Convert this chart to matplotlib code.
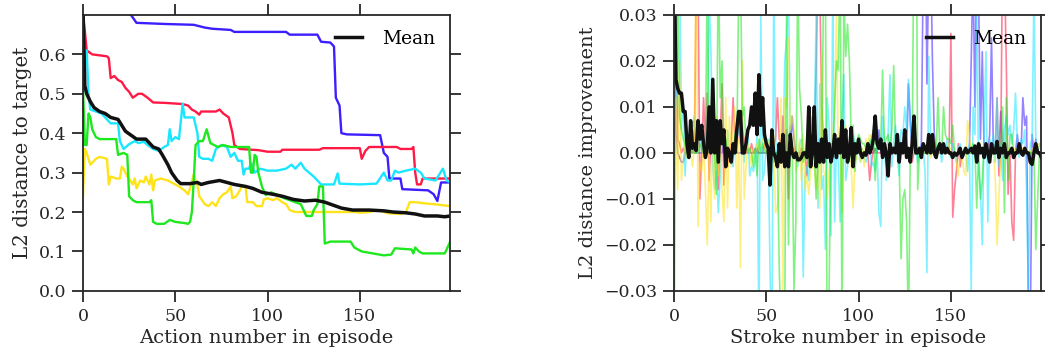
import numpy as np
import matplotlib
matplotlib.use("Agg")
import matplotlib.pyplot as plt

plt.rcParams["font.family"] = ["DejaVu Serif"]

INK = "#262626"
COLORS = {
    "blue": "#3c1eff",
    "red": "#ff1a46",
    "cyan": "#1ae6ff",
    "yellow": "#ffe31a",
    "green": "#1ee81e",
}

# ---- left panel: distance to target, read as knots (action, distance) ----
blue_x = [0, 10, 20, 26, 29, 45, 60, 66, 70, 80, 82, 110, 112, 127, 129, 134,
          136, 137, 139, 140, 143, 161, 163, 165, 166, 172, 173, 187, 190,
          192, 194, 199]
blue_y = [0.80, 0.75, 0.72, 0.70, 0.68, 0.677, 0.675, 0.668, 0.665, 0.662,
          0.657, 0.657, 0.65, 0.65, 0.632, 0.63, 0.62, 0.49, 0.47, 0.40,
          0.397, 0.395, 0.35, 0.34, 0.285, 0.285, 0.258, 0.255, 0.245,
          0.228, 0.275, 0.275]

red_x = [0, 1, 2, 5, 13, 14, 15, 17, 19, 21, 23, 25, 27, 30, 32, 35, 38, 44,
         54, 57, 59, 61, 63, 64, 72, 74, 76, 79, 81, 82, 85, 95, 100, 107,
         108, 128, 130, 150, 151, 153, 155, 170, 172, 178, 179, 180, 181,
         183, 184, 199]
red_y = [0.70, 0.66, 0.61, 0.60, 0.595, 0.59, 0.54, 0.545, 0.535, 0.53,
         0.515, 0.505, 0.49, 0.50, 0.50, 0.49, 0.478, 0.477, 0.474, 0.47,
         0.46, 0.455, 0.447, 0.455, 0.455, 0.46, 0.45, 0.44, 0.40, 0.37,
         0.36, 0.357, 0.353, 0.353, 0.358, 0.358, 0.362, 0.362, 0.335,
         0.355, 0.365, 0.365, 0.36, 0.36, 0.365, 0.30, 0.27, 0.27, 0.285,
         0.285]

cyan_x = [0, 1, 2, 3, 4, 10, 12, 15, 19, 20, 22, 25, 28, 30, 33, 35, 38, 41,
          44, 46, 47, 48, 50, 52, 54, 55, 60, 62, 63, 65, 68, 70, 72, 75, 78,
          80, 82, 84, 86, 87, 88, 90, 91, 93, 96, 100, 105, 110, 113, 115,
          118, 120, 125, 129, 136, 138, 139, 150, 159, 163, 165, 167, 169,
          171, 175, 180, 183, 185, 191, 195, 197, 199]
cyan_y = [0.55, 0.60, 0.61, 0.50, 0.46, 0.45, 0.44, 0.425, 0.425, 0.38, 0.36,
          0.372, 0.38, 0.375, 0.378, 0.37, 0.36, 0.355, 0.365, 0.37, 0.41,
          0.38, 0.39, 0.385, 0.475, 0.44, 0.44, 0.40, 0.34, 0.335, 0.335,
          0.33, 0.36, 0.37, 0.365, 0.34, 0.35, 0.33, 0.33, 0.295, 0.31,
          0.31, 0.325, 0.30, 0.31, 0.305, 0.305, 0.31, 0.32, 0.31, 0.325,
          0.31, 0.29, 0.27, 0.27, 0.298, 0.272, 0.27, 0.272, 0.30, 0.28,
          0.28, 0.305, 0.30, 0.305, 0.31, 0.30, 0.285, 0.28, 0.31, 0.28,
          0.275]

yellow_x = [0, 1, 2, 4, 7, 9, 13, 14, 15, 18, 20, 21, 22, 24, 25, 27, 28, 29,
            31, 33, 34, 36, 37, 38, 39, 42, 46, 48, 50, 52, 55, 57, 58, 60,
            61, 62, 63, 66, 68, 70, 72, 74, 76, 78, 80, 81, 83, 85, 86, 88,
            89, 92, 94, 97, 98, 100, 103, 105, 108, 110, 112, 115, 148, 150,
            155, 160, 165, 172, 175, 177, 180, 185, 190, 199]
yellow_y = [0.24, 0.36, 0.35, 0.32, 0.335, 0.34, 0.335, 0.27, 0.29, 0.285,
            0.285, 0.315, 0.31, 0.29, 0.285, 0.27, 0.285, 0.26, 0.28, 0.275,
            0.29, 0.27, 0.295, 0.255, 0.28, 0.285, 0.28, 0.275, 0.27, 0.265,
            0.255, 0.245, 0.26, 0.295, 0.28, 0.27, 0.24, 0.22, 0.215, 0.225,
            0.215, 0.235, 0.245, 0.25, 0.265, 0.235, 0.24, 0.255, 0.265,
            0.265, 0.225, 0.225, 0.215, 0.215, 0.232, 0.235, 0.23, 0.235,
            0.225, 0.22, 0.205, 0.20, 0.20, 0.198, 0.20, 0.205, 0.197, 0.195,
            0.20, 0.225, 0.225, 0.222, 0.22, 0.215]

green_x = [0, 1, 2, 3, 4, 5, 7, 9, 18, 19, 22, 24, 25, 27, 29, 36, 37, 38, 40,
           44, 47, 50, 55, 57, 58, 59, 60, 61, 63, 65, 67, 69, 73, 76, 80, 90,
           91, 92, 93, 94, 95, 97, 99, 102, 109, 115, 118, 121, 124, 125, 127,
           128, 130, 131, 134, 145, 147, 151, 163, 167, 169, 178, 179, 180,
           182, 184, 196, 199]
green_y = [0.52, 0.37, 0.37, 0.45, 0.44, 0.41, 0.39, 0.385, 0.385, 0.345,
           0.35, 0.345, 0.24, 0.23, 0.225, 0.225, 0.23, 0.175, 0.17, 0.17,
           0.18, 0.175, 0.172, 0.17, 0.175, 0.20, 0.28, 0.37, 0.38, 0.38,
           0.41, 0.375, 0.365, 0.37, 0.365, 0.365, 0.30, 0.30, 0.345, 0.34,
           0.30, 0.264, 0.243, 0.25, 0.235, 0.225, 0.22, 0.19, 0.19, 0.205,
           0.22, 0.265, 0.265, 0.12, 0.125, 0.125, 0.11, 0.10, 0.09, 0.092,
           0.108, 0.105, 0.095, 0.11, 0.10, 0.095, 0.095, 0.125]

mean_x = [0, 1, 2, 4, 6, 9, 12, 15, 19, 21, 23, 26, 29, 34, 36, 38, 41, 43, 46,
          48, 51, 53, 58, 62, 64, 68, 74, 78, 82, 88, 92, 97, 103, 108, 114,
          120, 126, 131, 134, 140, 146, 155, 163, 168, 175, 180, 185, 192,
          196, 199]
mean_y = [0.72, 0.52, 0.50, 0.48, 0.465, 0.455, 0.45, 0.44, 0.435, 0.42,
          0.405, 0.395, 0.385, 0.385, 0.375, 0.365, 0.36, 0.345, 0.32, 0.30,
          0.28, 0.272, 0.272, 0.275, 0.27, 0.275, 0.28, 0.275, 0.27, 0.265,
          0.26, 0.25, 0.245, 0.24, 0.232, 0.228, 0.23, 0.225, 0.22, 0.21,
          0.205, 0.205, 0.203, 0.20, 0.198, 0.195, 0.19, 0.19, 0.188, 0.19]

# ---- right panel: per-stroke improvement, in thousandths ----
blue_imp = [
    50, 5, 0, -1, -2, -2, 0, 0, 1, 0, 5, 0, 0, 0, 0, 0, 0, 0, 0, 0,
    2, 0, 0, 0, 0, 0, 0, 3, 1, 0, 0, 0, 0, 0, 0, 0, 0, 0, 0, 0,
    0, 0, 0, 0, 1, 0, 0, 0, 0, 0, 0, 0, 0, 0, 0, 0, 0, 0, 0, 1,
    0, 0, 0, 0, 8, 3, 0, 0, 0, 0, 0, 0, 0, 0, 2, 1, 0, 0, 0, 3,
    0, 2, 0, 0, 0, 0, 0, 0, 0, 0, 0, 0, 0, 0, 0, 0, 0, 0, 0, 0,
    0, 0, 0, 0, 0, 0, 0, 0, 0, 1, 0, 5, 0, 0, 0, 0, 0, 0, 0, 0,
    0, 0, 0, 0, 0, 0, 0, 15, 7, 0, 3, 0, 0, 0, 2, 40, 60, 15, 40, 45,
    20, 4, 0, 0, 0, 0, 0, 0, 0, 0, 0, 0, 0, 0, 0, 0, 0, 0, 0, 0,
    0, 20, 40, 10, 45, 35, 3, 22, 0, 0, 0, 4, 25, 1, 0, 0, 0, 9, 0, 2,
    0, 0, 0, 0, 0, 0, 4, 0, 0, 12, 6, 8, -35, -40, 4, 0, 3, 0, 0]
red_imp = [
    60, 50, 3, 2, 0, 1, 0, 2, 1, 0, 0, 1, 35, 40, -10, 0, 12, 2, 13, -6,
    3, 4, 2, 5, -8, 3, 15, -7, 2, -3, 0, 2, 12, 3, 0, 8, 2, 5, 3, 0,
    1, 0, 2, 0, 0, 1, 0, 0, 0, 2, 0, 0, 1, 0, 2, 3, 12, 3, 2, 8,
    0, 5, -10, 6, 0, 1, 0, -2, 0, 1, 0, 0, -5, 3, 8, 5, 2, 19, 40, 35,
    10, 3, 2, 0, 1, 0, 0, 1, 0, 0, 0, 0, 0, 1, 0, 0, 2, 1, 0, 0,
    0, 0, 0, 0, 0, 0, -6, -2, 1, 0, 0, 0, 0, 0, 0, 0, 0, 0, 0, 0,
    0, 0, 0, 0, 0, 0, 0, 0, -2, -2, 0, 0, 0, 0, 0, 0, 0, 0, 0, 0,
    0, 0, 0, 0, 0, 0, 0, 0, 0, 0, 26, -14, -8, -4, 2, -3, 0, 0, 0, 0,
    0, 0, 0, 0, 0, 0, 0, 0, 0, 0, 2, 1, 0, 0, 0, 12, -5, 0, 45, 40,
    20, -9, 0, -15, -19, 0, 0, 0, 0, 0, 0, 0, 0, 0, 0, 0, 0, 0, 0]
cyan_imp = [
    20, 10, 40, 45, 5, 12, -5, 3, 2, 2, 5, 8, 0, 3, 6, 0, 2, 0, 3, 35,
    22, -3, -8, -4, -13, -5, 4, 3, -3, 5, 0, -2, -3, 4, 6, 4, 7, 6, -2, 3,
    5, -5, -3, -4, -2, 4, -40, 30, -6, -4, 2, 3, -25, -45, 35, 3, -2, 0, 1, -1,
    20, 25, 35, 4, 2, -1, 0, -3, 2, 3, -27, -5, -3, -6, 2, 4, 5, 30, -12, 15,
    -8, -5, -21, 12, 6, -18, 35, -15, 2, -2, -15, 8, 17, -6, -3, 0, -2, 4, 2, 1,
    2, -2, 1, -1, -2, 0, 3, -3, -2, -4, 1, -13, -16, 8, 2, -6, 4, 17, -3, 2,
    6, -1, -5, 5, 4, 10, 5, 16, 6, 2, 0, 1, -2, 0, 0, 1, -4, -26, 21, 2,
    1, -1, 0, 1, 2, -2, 1, 0, 3, 0, -1, 2, 0, -2, 1, 2, -1, 0, 1, -4,
    2, -30, 10, 4, 30, -3, -8, -20, 5, 22, -15, 3, 1, 4, -2, 12, -3, 2, -6, 5,
    8, 4, 6, 2, 5, 13, 2, -1, 3, 2, 5, -8, -32, 2, 3, 35, 3, 0, 2]
yellow_imp = [
    -45, 12, -8, 20, -6, -2, 3, -1, 1, 0, -3, 1, 50, -16, -2, -4, 2, -8, -20, 0,
    -15, 12, -10, 8, -5, 3, -8, -15, 12, -12, 8, -3, 5, 10, -12, 3, -25, 20, -10, -3,
    2, 0, -3, 1, 0, 2, 1, 2, 3, 2, 0, 2, 3, 3, 4, -13, -12, -7, 12, -30,
    12, 10, 25, 5, 8, 5, -4, -2, 3, -6, 4, -8, -5, -9, -4, -3, -2, -8, -2, -12,
    22, -4, -5, -10, -4, 0, 4, 10, 30, 0, 2, -13, 4, 6, 0, 0, -3, -12, -2, -1,
    3, -2, 1, -3, 3, 2, 4, 3, 5, 4, 3, 2, 2, 1, 0, 0, 0, 0, 0, 0,
    0, 0, 0, 0, 0, 0, 0, 0, 0, 0, 0, 0, 0, 0, 0, 1, 0, 0, 0, -1,
    0, 0, 0, 0, 0, 0, 1, 0, 0, 2, 0, 0, 0, -2, -5, 0, 0, -4, -5, 7,
    4, 0, 1, 0, 0, 1, 2, 0, 0, 1, 0, 0, 2, 0, -5, -20, -10, 0, 2, 1,
    0, 1, 0, 0, 1, 0, 1, 0, 0, 1, 0, 1, 0, 0, 1, 0, 0, 1, 2]
green_imp = [
    -45, 50, 45, 8, 5, 3, 2, 0, 1, 2, 0, 0, 0, 0, 2, 1, 0, 0, 40, 0,
    0, 5, 0, -9, 45, 12, 20, 0, 3, 0, 0, 0, 0, 4, 0, 35, 40, 8, 10, 2,
    0, 1, 0, -3, 1, -5, 3, 0, 2, 0, 0, 1, 0, 2, -2, 0, 0, -25, -40, -45,
    -35, 30, -20, 3, 2, -30, -15, 40, 14, 8, -2, 0, 3, -3, 0, 4, 0, -10, -1, 2,
    0, 35, 40, -45, -30, 2, 0, 10, 20, 18, 45, -40, 35, 21, 28, 20, 3, 6, -4, 2,
    4, 3, 2, 2, 1, 0, 2, 3, 5, -6, 3, 2, 2, 18, 2, 3, 4, 1, 5, 19,
    2, 0, -2, -23, -10, -8, -15, -40, 0, 0, 50, 80, -8, 0, 0, 0, 0, 0, 0, 0,
    0, 0, 0, 12, 1, 0, 10, 4, 3, 3, 2, 6, 0, 0, 0, 0, 0, 0, 0, 0,
    0, 0, 2, 1, -12, 0, -10, -6, 2, 0, 0, 0, 0, 0, 0, 0, 0, 0, 10, -13,
    12, -6, 4, 4, 0, 0, 0, 0, 0, 0, 0, 0, 0, 0, 0, 0, -21, -10, 0]
mean_imp = [
    45, 16, 14, 13, 13, 9, 9, 2, -1, 7, 1, 2, 0.5, 7, 3, 6, 2, -1, 1, 10,
    0, 16, 0, 7, -2, 7, 2, 5, -3, 1, 0, -2, 2, 0, 5, 9, 9, 0, 0, 2,
    5, 6, 10, 6, 13, 4, 17, 6, 12, 4, 2, 1, -7, 5, 0, -1, -3, 2, -2, 4,
    -3, 0, -3, 4, 0, -1, 0, -1.5, -1.5, -1, 0, 0, -1, 10, -3, 0, 10, -3, 2, -2,
    3, -2, 5, -1, 2, -2, 0, 4, -1, 3, 0, 7, -1, 5, -2, 0, 5.5, -3, 2, 0,
    3, 0, -1, 0, -0.5, 2, 0, 1, 3, 8, 2, 1, 3, -1, 2, 0, -5, 2, 0, 1,
    0, 4, -2, 2, 0, 5, -1, 1, -2, 2, 8, 0, 0, 1, -1, 2, 1, 0, 4, 0,
    4, 0, -1, 1, 2, 0, 2, 0, 1, 0, 0, -1, 0, -0.5, 0, 1, -1, 0, 1, 0,
    0.5, 1, 0, 1.5, -2, 2, 0, 1, -1, 2, 0, -2, 2, 0, 0, 2.5, -1, 1, 0, 2,
    -1, 0, 0, 1, -1, 0, 0, 2, 0, -0.5, 1, 0, 0, -2, -2.5, 0, 2, 0, 0, -1]

left_series = [
    (blue_x, blue_y, "blue"),
    (red_x, red_y, "red"),
    (cyan_x, cyan_y, "cyan"),
    (yellow_x, yellow_y, "yellow"),
    (green_x, green_y, "green"),
]
right_series = [
    (blue_imp, "blue"),
    (red_imp, "red"),
    (cyan_imp, "cyan"),
    (yellow_imp, "yellow"),
    (green_imp, "green"),
]

fig = plt.figure(figsize=(10.45, 3.56), dpi=100)
ax1 = fig.add_axes([0.0794, 0.183, 0.3515, 0.775])
ax2 = fig.add_axes([0.645, 0.183, 0.3515, 0.775])


def style(ax):
    for s in ax.spines.values():
        s.set_color(INK)
        s.set_linewidth(1.3)
    ax.tick_params(direction="out", length=8, width=1.3, color=INK,
                   labelcolor=INK, labelsize=12.5, top=True, right=True,
                   pad=4)


# left panel
for xs, ys, c in left_series:
    ax1.plot(xs, ys, color=COLORS[c], lw=1.7)
ax1.plot(mean_x, mean_y, color="#111111", lw=2.5, label="Mean")
ax1.set_xlim(0, 199)
ax1.set_ylim(0, 0.7)
ax1.set_xticks([0, 50, 100, 150])
ax1.set_yticks(np.arange(0, 0.61, 0.1))
ax1.set_xlabel("Action number in episode", fontsize=14, color=INK,
               labelpad=3)
ax1.set_ylabel("L2 distance to target", fontsize=14.3, color=INK,
               labelpad=5)
style(ax1)
ax1.legend(loc="upper right", frameon=False, fontsize=13.5, handlelength=1.4,
           handletextpad=1.1, borderaxespad=0.4)

# right panel
for vals, c in right_series:
    ax2.plot(np.arange(len(vals)), np.array(vals) * 1e-3, color=COLORS[c],
             lw=1.2, alpha=0.55)
ax2.plot(np.arange(len(mean_imp)), np.array(mean_imp) * 1e-3,
         color="#111111", lw=2.5, label="Mean")
ax2.set_xlim(0, 199)
ax2.set_ylim(-0.03, 0.03)
ax2.set_xticks([0, 50, 100, 150])
ax2.set_yticks([-0.03, -0.02, -0.01, 0.0, 0.01, 0.02, 0.03])
ax2.set_yticklabels(["\u22120.03", "\u22120.02", "\u22120.01", "0.00",
                     "0.01", "0.02", "0.03"])
ax2.set_xlabel("Stroke number in episode", fontsize=14, color=INK,
               labelpad=3)
ax2.set_ylabel("L2 distance improvement", fontsize=14, color=INK,
               labelpad=5)
style(ax2)
ax2.legend(loc="upper right", frameon=False, fontsize=13.5, handlelength=1.4,
           handletextpad=1.1, borderaxespad=0.4)

fig.savefig("out.png", dpi=100)
